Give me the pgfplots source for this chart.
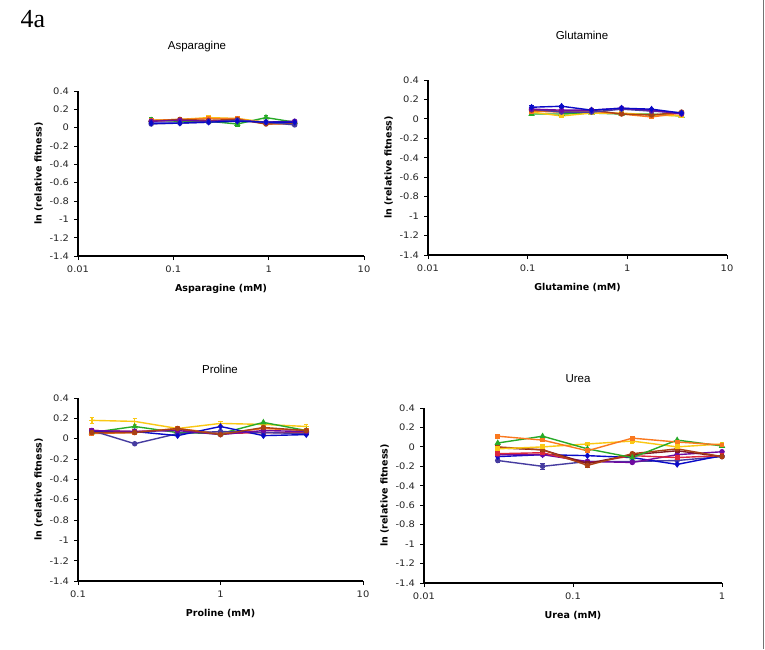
\documentclass[border=0pt]{standalone}
\usepackage{fontspec}
\setmainfont{DejaVu Sans}
\newfontfamily\tickfont[FakeStretch=1.1]{DejaVu Sans}
\newfontfamily\titlefont{Liberation Sans}
\newfontfamily\panelfont{Liberation Serif}
\usepackage{pgfplots}
\pgfplotsset{compat=1.18}

% series colours
\definecolor{sBlue}{RGB}{10,10,200}
\definecolor{sSlate}{RGB}{70,60,160}
\definecolor{sGreen}{RGB}{40,170,40}
\definecolor{sYellow}{RGB}{250,200,20}
\definecolor{sOrange}{RGB}{250,120,30}
\definecolor{sBrown}{RGB}{170,65,20}
\definecolor{sMaroon}{RGB}{130,25,35}
\definecolor{sPurple}{RGB}{110,10,160}
\definecolor{sRed}{RGB}{220,40,60}

\pgfplotsset{
  fitpanel/.style={
    scale only axis,
    xminorticks=false,
    axis x line*=bottom,
    axis y line*=left,
    axis line style={-, line width=1.3pt, black},
    tick style={black, line width=0.9pt},
    major tick length=4pt,
    tick align=outside,
    ymin=-1.4, ymax=0.4,
    ytick={-1.4,-1.2,-1,-0.8,-0.6,-0.4,-0.2,0,0.2,0.4},
    yticklabels={-1.4,-1.2,-1,-0.8,-0.6,-0.4,-0.2,0,0.2,0.4},
    tick label style={font=\tickfont\fontsize{9}{10}\selectfont, text=black!85},
    xticklabel style={yshift=-2pt},
    yticklabel style={xshift=-1.5pt},
    label style={font=\bfseries\fontsize{9.5}{11}\selectfont},
    xlabel style={yshift=-5pt},
    ylabel style={yshift=0pt},
    ylabel={ln (relative fitness)},
    clip=false,
  },
  ser/.style={line width=1.4pt, color=#1, mark=*, mark size=2pt, mark options={fill=#1, draw=#1}},
  serd/.style={line width=1.4pt, color=#1, mark=diamond*, mark size=2.3pt, mark options={fill=#1, draw=#1}},
  sers/.style={line width=1.4pt, color=#1, mark=square*, mark size=1.7pt, mark options={fill=#1, draw=#1}},
  sert/.style={line width=1.4pt, color=#1, mark=triangle*, mark size=2.3pt, mark options={fill=#1, draw=#1}},
  errs/.style={error bars/.cd, y dir=both, y explicit,
    error bar style={line width=0.6pt},
    error mark options={rotate=90, mark size=2.2pt, line width=0.6pt}},
}

\begin{document}
\begin{tikzpicture}
\useasboundingbox (0,0) rectangle (765pt,649pt);
\fill[white] (0,0) rectangle (765pt,649pt);
\draw[black!55, line width=1pt] (763pt,0) -- (763pt,649pt);

\node[font=\panelfont\fontsize{26}{28}\selectfont] at (33pt,630pt) {4a};

% ---------------- Asparagine ----------------
\begin{axis}[fitpanel, xmode=log, at={(78pt,393pt)}, anchor=south west,
  width=286pt, height=165pt,
  xmin=0.01, xmax=10, xtick={0.01,0.1,1,10}, xticklabels={0.01,0.1,1,10},
  xlabel={Asparagine (mM)}]
\addplot[sert=sGreen, errs] coordinates {(0.0586,0.08)+-(0,0.03) (0.1172,0.07)+-(0,0.01) (0.2344,0.07)+-(0,0.01) (0.4688,0.04)+-(0,0.02) (0.9375,0.11)+-(0,0.03) (1.875,0.06)+-(0,0.01)};
\addplot[sers=sYellow] coordinates {(0.0586,0.08) (0.1172,0.09) (0.2344,0.11) (0.4688,0.10) (0.9375,0.06) (1.875,0.05)};
\addplot[sers=sOrange] coordinates {(0.0586,0.08) (0.1172,0.09) (0.2344,0.10) (0.4688,0.10) (0.9375,0.04) (1.875,0.04)};
\addplot[ser=sBrown] coordinates {(0.0586,0.07) (0.1172,0.09) (0.2344,0.08) (0.4688,0.09) (0.9375,0.04) (1.875,0.05)};
\addplot[ser=sPurple] coordinates {(0.0586,0.07) (0.1172,0.08) (0.2344,0.07) (0.4688,0.08) (0.9375,0.06) (1.875,0.07)};
\addplot[ser=sSlate] coordinates {(0.0586,0.04) (0.1172,0.05) (0.2344,0.06) (0.4688,0.08) (0.9375,0.06) (1.875,0.03)};
\addplot[serd=sBlue] coordinates {(0.0586,0.05) (0.1172,0.05) (0.2344,0.06) (0.4688,0.07) (0.9375,0.06) (1.875,0.06)};
\end{axis}

% ---------------- Glutamine ----------------
\begin{axis}[fitpanel, xmode=log, at={(428pt,394pt)}, anchor=south west,
  width=299pt, height=175pt,
  xmin=0.01, xmax=10, xtick={0.01,0.1,1,10}, xticklabels={0.01,0.1,1,10},
  xlabel={Glutamine (mM)}]
\addplot[sert=sGreen] coordinates {(0.1094,0.05) (0.2188,0.05) (0.4375,0.06) (0.875,0.05) (1.75,0.05) (3.5,0.03)};
\addplot[sers=sYellow] coordinates {(0.1094,0.07) (0.2188,0.03) (0.4375,0.06) (0.875,0.06) (1.75,0.04) (3.5,0.03)};
\addplot[sers=sOrange] coordinates {(0.1094,0.08) (0.2188,0.07) (0.4375,0.08) (0.875,0.05) (1.75,0.02) (3.5,0.06)};
\addplot[ser=sBrown] coordinates {(0.1094,0.09) (0.2188,0.08) (0.4375,0.09) (0.875,0.05) (1.75,0.04) (3.5,0.07)};
\addplot[ser=sSlate] coordinates {(0.1094,0.10) (0.2188,0.07) (0.4375,0.07) (0.875,0.10) (1.75,0.08) (3.5,0.06)};
\addplot[ser=sPurple] coordinates {(0.1094,0.10) (0.2188,0.09) (0.4375,0.09) (0.875,0.11) (1.75,0.09) (3.5,0.05)};
\addplot[serd=sBlue, errs] coordinates {(0.1094,0.12)+-(0,0.02) (0.2188,0.13)+-(0,0.01) (0.4375,0.09)+-(0,0.01) (0.875,0.11)+-(0,0.01) (1.75,0.10)+-(0,0.01) (3.5,0.06)+-(0,0.01)};
\end{axis}

% ---------------- Proline ----------------
\begin{axis}[fitpanel, xmode=log, at={(78pt,68pt)}, anchor=south west,
  width=285pt, height=183pt,
  xmin=0.1, xmax=10, xtick={0.1,1,10}, xticklabels={0.1,1,10},
  xlabel={Proline (mM)}]
\addplot[line width=1.4pt, color=sYellow, mark=+, mark size=2.8pt, errs] coordinates {(0.125,0.18)+-(0,0.03) (0.25,0.17)+-(0,0.03) (0.5,0.10)+-(0,0.01) (1,0.15)+-(0,0.02) (2,0.14)+-(0,0.01) (4,0.12)+-(0,0.02)};
\addplot[sers=sRed] coordinates {(0.125,0.08) (0.25,0.07) (0.5,0.09) (1,0.05) (2,0.06) (4,0.06)};
\addplot[sert=sGreen] coordinates {(0.125,0.06) (0.25,0.12) (0.5,0.06) (1,0.05) (2,0.16) (4,0.08)};
\addplot[sers=sOrange] coordinates {(0.125,0.05) (0.25,0.06) (0.5,0.10) (1,0.05) (2,0.10) (4,0.08)};
\addplot[ser=sSlate] coordinates {(0.125,0.08) (0.25,-0.05) (0.5,0.05) (1,0.07) (2,0.06) (4,0.05)};
\addplot[serd=sBlue] coordinates {(0.125,0.07) (0.25,0.07) (0.5,0.03) (1,0.12) (2,0.03) (4,0.04)};
\addplot[ser=sPurple] coordinates {(0.125,0.08) (0.25,0.07) (0.5,0.08) (1,0.04) (2,0.08) (4,0.07)};
\addplot[ser=sBrown] coordinates {(0.125,0.06) (0.25,0.06) (0.5,0.10) (1,0.04) (2,0.11) (4,0.08)};
\end{axis}

% ---------------- Urea ----------------
\begin{axis}[fitpanel, xmode=log, at={(424pt,66pt)}, anchor=south west,
  width=298pt, height=175pt,
  xmin=0.01, xmax=1, xtick={0.01,0.1,1}, xticklabels={0.01,0.1,1},
  xlabel={Urea (mM)}]
\addplot[ser=sSlate, errs] coordinates {(0.03125,-0.14)+-(0,0.02) (0.0625,-0.20)+-(0,0.03) (0.125,-0.15)+-(0,0.01) (0.25,-0.15)+-(0,0.01) (0.5,-0.14)+-(0,0.01) (1,-0.10)+-(0,0.01)};
\addplot[serd=sBlue] coordinates {(0.03125,-0.10) (0.0625,-0.08) (0.125,-0.09) (0.25,-0.11) (0.5,-0.18) (1,-0.09)};
\addplot[ser=sPurple] coordinates {(0.03125,-0.08) (0.0625,-0.08) (0.125,-0.15) (0.25,-0.16) (0.5,-0.08) (1,-0.05)};
\addplot[sers=sRed] coordinates {(0.03125,-0.07) (0.0625,-0.06) (0.125,-0.17) (0.25,-0.09) (0.5,-0.11) (1,-0.09)};
\addplot[sers=sMaroon] coordinates {(0.03125,-0.01) (0.0625,-0.03) (0.125,-0.17) (0.25,-0.08) (0.5,-0.04) (1,-0.10)};
\addplot[ser=sBrown, errs] coordinates {(0.03125,0.00)+-(0,0.01) (0.0625,-0.03)+-(0,0.01) (0.125,-0.19)+-(0,0.02) (0.25,-0.07)+-(0,0.01) (0.5,-0.02)+-(0,0.01) (1,-0.10)+-(0,0.01)};
\addplot[sers=sYellow, errs] coordinates {(0.03125,-0.02)+-(0,0.01) (0.0625,0.00)+-(0,0.01) (0.125,0.03)+-(0,0.01) (0.25,0.06)+-(0,0.02) (0.5,0.00)+-(0,0.01) (1,0.03)+-(0,0.01)};
\addplot[sert=sGreen] coordinates {(0.03125,0.04) (0.0625,0.11) (0.125,-0.02) (0.25,-0.11) (0.5,0.07) (1,0.01)};
\addplot[sers=sOrange] coordinates {(0.03125,0.11) (0.0625,0.07) (0.125,-0.04) (0.25,0.09) (0.5,0.05) (1,0.02)};
\end{axis}

% panel titles
\begin{scope}[every node/.style={font=\titlefont\fontsize{11.5}{13}\selectfont}]
\node at (197pt,602pt) {Asparagine};
\node at (582pt,614pt) {Glutamine};
\node at (220pt,280pt) {Proline};
\node at (578pt,270pt) {Urea};
\end{scope}
\end{tikzpicture}
\end{document}
